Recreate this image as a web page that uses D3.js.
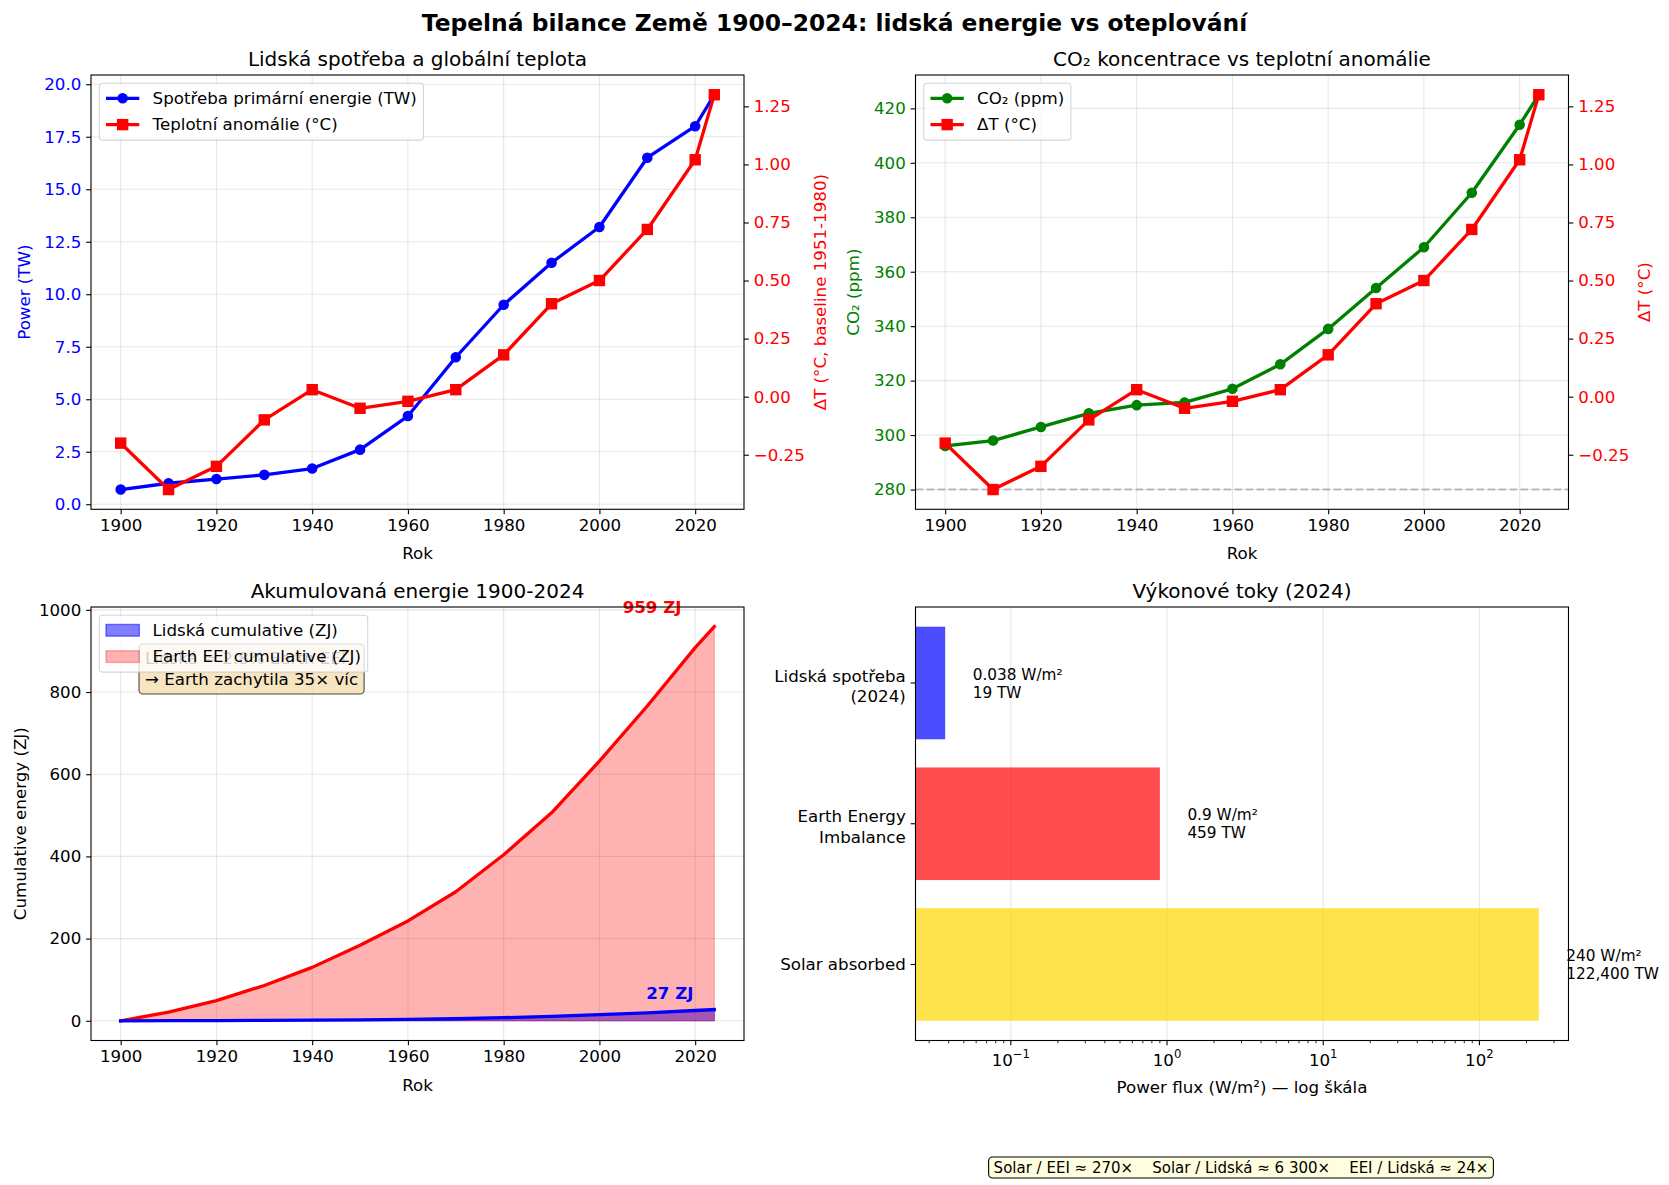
<!DOCTYPE html>
<html><head><meta charset="utf-8">
<script src="https://cdn.jsdelivr.net/npm/d3@7"></script>
<style>
body{margin:0;background:#fff;}
svg{display:block;font-family:"DejaVu Sans",sans-serif;}
</style></head><body>
<svg id="chart" width="1669" height="1185"></svg>
<script>
// ---------------- DATA ----------------
const years       = [1900,1910,1920,1930,1940,1950,1960,1970,1980,1990,2000,2010,2020,2024];
const energyTW    = [0.7,1.0,1.2,1.4,1.7,2.6,4.2,7.0,9.5,11.5,13.2,16.5,18.0,19.5];
const tempAnomC   = [-0.20,-0.40,-0.30,-0.10,0.03,-0.05,-0.02,0.03,0.18,0.40,0.50,0.72,1.02,1.30];
const co2ppm      = [296,298,303,308,311,312,317,326,339,354,369,389,414,425];
const co2Preindustrial = 280;
const humanCumZJ  = [0,0.3,0.6,1.0,1.5,2.2,3.3,5.0,7.6,11.0,14.9,19.5,25.0,27.3];
const eeiCumZJ    = [0,21,49,86,130,184,243,314,404,506,632,766,908,959];

const fluxCategories = ["Solar absorbed","Earth Energy\nImbalance","Lidská spotřeba\n(2024)"];
const fluxWm2        = [240,0.9,0.038];
const fluxWm2Labels  = ["240 W/m²","0.9 W/m²","0.038 W/m²"];
const fluxTWLabels   = ["122,400 TW","459 TW","19 TW"];

const yearTicks  = [1900,1920,1940,1960,1980,2000,2020];
const powerTicks = [0,2.5,5,7.5,10,12.5,15,17.5,20];
const tempTicks  = [-0.25,0,0.25,0.5,0.75,1.0,1.25];
const co2Ticks   = [280,300,320,340,360,380,400,420];
const cumTicks   = [0,200,400,600,800,1000];
const logTicks   = [-1,0,1,2];

const suptitle = "Tepelná bilance Země 1900–2024: lidská energie vs oteplování";
const ratioText = "Solar / EEI ≈ 270×    Solar / Lidská ≈ 6 300×    EEI / Lidská ≈ 24×";

// ---------------- STYLE / LAYOUT ----------------
const FONT = '"DejaVu Sans", sans-serif';
const FS = 16.67, TFS = 20, SFS = 15.3;
const TICK = 4.86, PAD = 4.86, LW = 3.3;
const GRID = {stroke:'#b0b0b0', op:0.3, w:1.1};

const P1 = {x0:91,    x1:744,    y0:75,  y1:509.3};
const P2 = {x0:915.5, x1:1568.5, y0:75,  y1:509.3};
const P3 = {x0:91,    x1:744,    y0:607, y1:1040.5};
const P4 = {x0:915.5, x1:1568.5, y0:607, y1:1040.5};

const svg = d3.select('#chart').attr('font-family', FONT);
svg.append('rect').attr('width',1669).attr('height',1185).attr('fill','#fff');

function padDomain(lo, hi, f=0.05){ const m=(hi-lo)*f; return [lo-m, hi+m]; }
const ext = (...arrs) => d3.extent(arrs.flat());

function gridX(g, sc, ticks, p){
  ticks.forEach(t => g.append('line').attr('x1',sc(t)).attr('x2',sc(t)).attr('y1',p.y0).attr('y2',p.y1)
    .attr('stroke',GRID.stroke).attr('stroke-opacity',GRID.op).attr('stroke-width',GRID.w));
}
function gridY(g, sc, ticks, p){
  ticks.forEach(t => g.append('line').attr('y1',sc(t)).attr('y2',sc(t)).attr('x1',p.x0).attr('x2',p.x1)
    .attr('stroke',GRID.stroke).attr('stroke-opacity',GRID.op).attr('stroke-width',GRID.w));
}
function styleAxis(sel, color){
  sel.attr('font-size', FS).attr('font-family', FONT);
  sel.select('.domain').remove();
  sel.selectAll('.tick line').attr('stroke','#000').attr('stroke-width',1.1);
  sel.selectAll('.tick text').attr('fill', color);
}
function axisB(g, sc, ticks, fmt, p, color='#000'){
  g.append('g').attr('transform',`translate(0,${p.y1})`)
   .call(d3.axisBottom(sc).tickValues(ticks).tickFormat(fmt).tickSize(TICK).tickPadding(PAD))
   .call(s => styleAxis(s, color));
}
function axisL(g, sc, ticks, fmt, p, color='#000'){
  g.append('g').attr('transform',`translate(${p.x0},0)`)
   .call(d3.axisLeft(sc).tickValues(ticks).tickFormat(fmt).tickSize(TICK).tickPadding(PAD))
   .call(s => styleAxis(s, color));
}
function axisR(g, sc, ticks, fmt, p, color='#000'){
  g.append('g').attr('transform',`translate(${p.x1},0)`)
   .call(d3.axisRight(sc).tickValues(ticks).tickFormat(fmt).tickSize(TICK).tickPadding(PAD))
   .call(s => styleAxis(s, color));
}
function frame(g, p){
  g.append('rect').attr('x',p.x0).attr('y',p.y0).attr('width',p.x1-p.x0).attr('height',p.y1-p.y0)
   .attr('fill','none').attr('stroke','#000').attr('stroke-width',1.1);
}
function title(g, p, txt){
  g.append('text').attr('x',(p.x0+p.x1)/2).attr('y',p.y0-9).attr('text-anchor','middle')
   .attr('font-size',TFS).attr('fill','#000').text(txt);
}
function xlabel(g, p, txt, off=50){
  g.append('text').attr('x',(p.x0+p.x1)/2).attr('y',p.y1+off).attr('text-anchor','middle')
   .attr('font-size',FS).attr('fill','#000').text(txt);
}
function ylabel(g, p, txt, cx, color){
  g.append('text').attr('transform',`translate(${cx},${(p.y0+p.y1)/2}) rotate(-90)`)
   .attr('text-anchor','middle').attr('dy','0.35em').attr('font-size',FS).attr('fill',color).text(txt);
}
function marker(g, type, cx, cy, color){
  if (type==='o') g.append('circle').attr('cx',cx).attr('cy',cy).attr('r',4.6)
     .attr('fill',color).attr('stroke',color).attr('stroke-width',1.39);
  else g.append('rect').attr('x',cx-5).attr('y',cy-5).attr('width',10).attr('height',10)
     .attr('fill',color).attr('stroke',color).attr('stroke-width',1.39);
}
function series(g, xs, ys, xsc, ysc, color, mk){
  const line = d3.line().x((d,i)=>xsc(xs[i])).y(d=>ysc(d));
  g.append('path').attr('d', line(ys)).attr('fill','none').attr('stroke',color)
   .attr('stroke-width',LW).attr('stroke-linejoin','round').attr('stroke-linecap','square');
  if (mk) ys.forEach((v,i)=>marker(g, mk, xsc(xs[i]), ysc(v), color));
}
function legend(g, x, y, items){
  const lg = g.append('g');
  const rect = lg.append('rect');
  let maxW = 0;
  items.forEach((it,i)=>{
    const cy = y + 15 + i*26.3;
    if (it.kind==='patch'){
      lg.append('rect').attr('x',x+6.7).attr('y',cy-5.85).attr('width',33.3).attr('height',11.7)
        .attr('fill',it.color).attr('fill-opacity',it.alpha)
        .attr('stroke',it.color).attr('stroke-opacity',it.alpha).attr('stroke-width',1.4);
    } else {
      lg.append('line').attr('x1',x+6.7).attr('x2',x+40).attr('y1',cy).attr('y2',cy)
        .attr('stroke',it.color).attr('stroke-width',LW);
      marker(lg, it.marker, x+23.35, cy, it.color);
    }
    const t = lg.append('text').attr('x',x+53.3).attr('y',cy).attr('dy','0.35em')
      .attr('font-size',FS).attr('fill','#000').text(it.label);
    maxW = Math.max(maxW, t.node().getComputedTextLength());
  });
  rect.attr('x',x).attr('y',y).attr('width',53.3+maxW+6.7).attr('height',15+26.3*(items.length-1)+15.5)
    .attr('rx',3.3).attr('fill','#fff').attr('fill-opacity',0.8)
    .attr('stroke','#cccccc').attr('stroke-opacity',0.8).attr('stroke-width',1.1);
}

// suptitle
svg.append('text').attr('x',834.5).attr('y',30.5).attr('text-anchor','middle')
  .attr('font-size',23.4).attr('font-weight','bold').attr('fill','#000').text(suptitle);

// ---------------- PANEL 1 ----------------
{
  const g = svg.append('g'), p = P1;
  const x = d3.scaleLinear().domain(padDomain(...d3.extent(years))).range([p.x0,p.x1]);
  const yP = d3.scaleLinear().domain(padDomain(...ext(energyTW))).range([p.y1,p.y0]);
  const yT = d3.scaleLinear().domain(padDomain(...ext(tempAnomC))).range([p.y1,p.y0]);
  gridX(g, x, yearTicks, p); gridY(g, yP, powerTicks, p);
  series(g, years, energyTW, x, yP, '#0000ff', 'o');
  series(g, years, tempAnomC, x, yT, '#ff0000', 's');
  frame(g, p);
  axisB(g, x, yearTicks, d3.format('d'), p);
  axisL(g, yP, powerTicks, d3.format('.1f'), p, '#0000ff');
  axisR(g, yT, tempTicks, d3.format('.2f'), p, '#ff0000');
  title(g, p, 'Lidská spotřeba a globální teplota');
  xlabel(g, p, 'Rok');
  ylabel(g, p, 'Power (TW)', p.x0-66.5, '#0000ff');
  ylabel(g, p, 'ΔT (°C, baseline 1951-1980)', p.x1+76.6, '#ff0000');
  legend(g, p.x0+8.3, p.y0+8.3, [
    {label:'Spotřeba primární energie (TW)', color:'#0000ff', marker:'o'},
    {label:'Teplotní anomálie (°C)', color:'#ff0000', marker:'s'}]);
}

// ---------------- PANEL 2 ----------------
{
  const g = svg.append('g'), p = P2;
  const x = d3.scaleLinear().domain(padDomain(...d3.extent(years))).range([p.x0,p.x1]);
  const yC = d3.scaleLinear().domain(padDomain(...ext(co2ppm,[co2Preindustrial]))).range([p.y1,p.y0]);
  const yT = d3.scaleLinear().domain(padDomain(...ext(tempAnomC))).range([p.y1,p.y0]);
  gridX(g, x, yearTicks, p); gridY(g, yC, co2Ticks, p);
  series(g, years, co2ppm, x, yC, '#008000', 'o');
  g.append('line').attr('x1',p.x0).attr('x2',p.x1).attr('y1',yC(co2Preindustrial)).attr('y2',yC(co2Preindustrial))
    .attr('stroke','#808080').attr('stroke-opacity',0.5).attr('stroke-width',2.08).attr('stroke-dasharray','7.7,3.3');
  series(g, years, tempAnomC, x, yT, '#ff0000', 's');
  frame(g, p);
  axisB(g, x, yearTicks, d3.format('d'), p);
  axisL(g, yC, co2Ticks, d3.format('d'), p, '#008000');
  axisR(g, yT, tempTicks, d3.format('.2f'), p, '#ff0000');
  title(g, p, 'CO₂ koncentrace vs teplotní anomálie');
  xlabel(g, p, 'Rok');
  ylabel(g, p, 'CO₂ (ppm)', p.x0-62, '#008000');
  ylabel(g, p, 'ΔT (°C)', p.x1+76, '#ff0000');
  legend(g, p.x0+8.3, p.y0+8.3, [
    {label:'CO₂ (ppm)', color:'#008000', marker:'o'},
    {label:'ΔT (°C)', color:'#ff0000', marker:'s'}]);
}

// ---------------- PANEL 3 ----------------
{
  const g = svg.append('g'), p = P3;
  const x = d3.scaleLinear().domain(padDomain(...d3.extent(years))).range([p.x0,p.x1]);
  const y = d3.scaleLinear().domain(padDomain(...ext(humanCumZJ, eeiCumZJ))).range([p.y1,p.y0]);
  gridX(g, x, yearTicks, p); gridY(g, y, cumTicks, p);
  const area = d3.area().x((d,i)=>x(years[i])).y0(y(0)).y1(d=>y(d));
  g.append('path').attr('d',area(humanCumZJ)).attr('fill','#0000ff').attr('fill-opacity',0.5)
    .attr('stroke','#0000ff').attr('stroke-opacity',0.5).attr('stroke-width',1);
  g.append('path').attr('d',area(eeiCumZJ)).attr('fill','#ff0000').attr('fill-opacity',0.3)
    .attr('stroke','#ff0000').attr('stroke-opacity',0.3).attr('stroke-width',1);
  series(g, years, eeiCumZJ, x, y, '#ff0000', null);
  series(g, years, humanCumZJ, x, y, '#0000ff', null);
  const last = years.length-1;
  g.append('text').attr('x',x(2011)).attr('y',y(992)).attr('text-anchor','middle').attr('font-weight','bold')
    .attr('font-size',FS).attr('fill','#ff0000').text(`${eeiCumZJ[last]} ZJ`);
  g.append('text').attr('x',x(2014.7)).attr('y',y(54)).attr('text-anchor','middle').attr('font-weight','bold')
    .attr('font-size',FS).attr('fill','#0000ff').text(`${Math.round(humanCumZJ[last])} ZJ`);
  // annotation box (mostly hidden under the legend, as in the reference)
  const ann = g.append('g');
  const annRect = ann.append('rect');
  const tx = p.x0 + 54;
  ann.append('text').attr('x',tx).attr('y',p.y0+57.3).attr('font-size',FS).attr('fill','#000')
    .text(`Lidská ≈ ${(100*humanCumZJ[last]/eeiCumZJ[last]).toFixed(1)}% Earth EEI`);
  const t2 = ann.append('text').attr('x',tx).attr('y',p.y0+78).attr('font-size',FS).attr('fill','#000')
    .text(`→ Earth zachytila ${Math.round(eeiCumZJ[last]/humanCumZJ[last])}× víc`);
  const aw = t2.node().getComputedTextLength();
  annRect.attr('x',tx-6).attr('y',p.y0+37).attr('width',aw+12).attr('height',50).attr('rx',4)
    .attr('fill','#f5deb3').attr('fill-opacity',0.8).attr('stroke','#000').attr('stroke-opacity',0.7).attr('stroke-width',1.1);
  frame(g, p);
  axisB(g, x, yearTicks, d3.format('d'), p);
  axisL(g, y, cumTicks, d3.format('d'), p);
  title(g, p, 'Akumulovaná energie 1900-2024');
  xlabel(g, p, 'Rok');
  ylabel(g, p, 'Cumulative energy (ZJ)', p.x0-71, '#000');
  legend(g, p.x0+8.3, p.y0+8.3, [
    {kind:'patch', label:'Lidská cumulative (ZJ)', color:'#0000ff', alpha:0.5},
    {kind:'patch', label:'Earth EEI cumulative (ZJ)', color:'#ff0000', alpha:0.3}]);
}

// ---------------- PANEL 4 ----------------
{
  const g = svg.append('g'), p = P4;
  const lmin = Math.log10(d3.min(fluxWm2)), lmax = Math.log10(d3.max(fluxWm2));
  const [dl, dh] = padDomain(lmin, lmax);
  const x = d3.scaleLog().domain([10**dl, 10**dh]).range([p.x0,p.x1]);
  const y = d3.scaleLinear().domain(padDomain(-0.4, fluxWm2.length-1+0.4)).range([p.y1,p.y0]);
  const majors = logTicks.map(k=>10**k);
  gridX(g, x, majors, p);
  const colors = ['#FFD700','#ff0000','#0000ff'];
  fluxWm2.forEach((v,i)=>{
    g.append('rect').attr('x',p.x0).attr('y',y(i+0.4)).attr('width',x(v)-p.x0).attr('height',y(i-0.4)-y(i+0.4))
      .attr('fill',colors[i]).attr('fill-opacity',0.7);
    const tx = x(v*1.5), cy = y(i);
    g.append('text').attr('x',tx).attr('y',cy-3.5).attr('font-size',SFS).attr('fill','#000').text(fluxWm2Labels[i]);
    g.append('text').attr('x',tx).attr('y',cy+14.6).attr('font-size',SFS).attr('fill','#000').text(fluxTWLabels[i]);
    g.append('line').attr('x1',p.x0-TICK).attr('x2',p.x0).attr('y1',cy).attr('y2',cy).attr('stroke','#000').attr('stroke-width',1.1);
    const lines = fluxCategories[i].split('\n');
    lines.forEach((ln,j)=>{
      const by = lines.length===1 ? cy+6 : cy-1.5+j*20.8;
      g.append('text').attr('x',p.x0-TICK-PAD).attr('y',by).attr('text-anchor','end')
        .attr('font-size',FS).attr('fill','#000').text(ln);
    });
  });
  frame(g, p);
  for (let k=-3;k<=3;k++) for (let m=2;m<=9;m++){
    const v = m*10**k;
    if (v < x.domain()[0] || v > x.domain()[1]) continue;
    g.append('line').attr('x1',x(v)).attr('x2',x(v)).attr('y1',p.y1).attr('y2',p.y1+2.78)
      .attr('stroke','#000').attr('stroke-width',0.83);
  }
  majors.forEach((v,i)=>{
    g.append('line').attr('x1',x(v)).attr('x2',x(v)).attr('y1',p.y1).attr('y2',p.y1+TICK).attr('stroke','#000').attr('stroke-width',1.1);
    const t = g.append('text').attr('x',x(v)).attr('y',p.y1+25.5).attr('text-anchor','middle').attr('font-size',FS).attr('fill','#000');
    t.append('tspan').text('10');
    t.append('tspan').attr('dy',-8).attr('font-size',FS*0.7).text(String(logTicks[i]).replace('-','−'));
  });
  title(g, p, 'Výkonové toky (2024)');
  xlabel(g, p, 'Power flux (W/m²) — log škála', 52);
}

// ---------------- FOOTER ----------------
{
  const cx = 1241, cy = 1167.5;
  const gb = svg.append('g');
  const r = gb.append('rect');
  const t = gb.append('text').attr('x',cx).attr('y',cy+5.3).attr('text-anchor','middle')
    .attr('font-size',15).attr('fill','#000').attr('xml:space','preserve').style('white-space','pre').text(ratioText);
  const w = t.node().getComputedTextLength();
  r.attr('x',cx-w/2-5).attr('y',cy-10.5).attr('width',w+10).attr('height',21).attr('rx',4)
   .attr('fill','#ffffe0').attr('stroke','#000').attr('stroke-width',1.1);
}
</script>
</body></html>
